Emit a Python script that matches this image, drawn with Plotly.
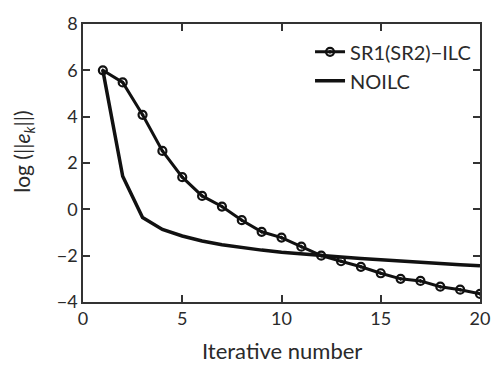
import plotly.graph_objects as go

iterations = list(range(1, 21))
sr_ilc = [6.0, 5.48, 4.08, 2.52, 1.39, 0.58, 0.12, -0.47, -0.97, -1.22,
          -1.61, -2.0, -2.24, -2.48, -2.76, -3.0, -3.09, -3.34, -3.47, -3.65]
noilc = [6.0, 1.43, -0.35, -0.87, -1.15, -1.37, -1.53, -1.66, -1.76, -1.85,
         -1.93, -2.0, -2.06, -2.12, -2.18, -2.24, -2.29, -2.34, -2.39, -2.44]
x_ticks = [0, 5, 10, 15, 20]
y_ticks = [-4, -2, 0, 2, 4, 6, 8]

FONT = "Lato"
INK = "#2a2a2a"
fig = go.Figure()
fig.add_trace(go.Scatter(
    x=iterations, y=sr_ilc, mode="lines+markers", name="SR1(SR2)\u2212ILC",
    line=dict(color="#111", width=3),
    marker=dict(symbol="circle-open-dot", size=8, color="#111", line=dict(width=2.2, color="#111")),
))
fig.add_trace(go.Scatter(
    x=iterations, y=noilc, mode="lines", name="NOILC",
    line=dict(color="#111", width=3.5),
))

axis_common = dict(
    showline=True, linecolor="#333", linewidth=1.5, mirror="ticks",
    ticks="inside", ticklen=7, tickwidth=1.5, tickcolor="#333",
    showgrid=False, zeroline=False,
    tickfont=dict(family=FONT, size=18, color=INK),
)
fig.update_xaxes(range=[0, 20], tickvals=x_ticks, **axis_common)
fig.update_yaxes(range=[-4, 8], tickvals=y_ticks, **axis_common)

fig.add_annotation(text="Iterative number", xref="paper", yref="paper",
                   x=0.5, y=-0.176, xanchor="center", yanchor="middle", showarrow=False,
                   font=dict(family=FONT, size=22, color=INK))
fig.add_annotation(text="log (||<i>e</i><sub><i>k</i></sub>||)", xref="paper", yref="paper",
                   x=-0.150, y=0.542, xanchor="center", yanchor="middle", textangle=-90,
                   showarrow=False, font=dict(family=FONT, size=21, color=INK))

fig.update_layout(
    width=502, height=367,
    margin=dict(l=83, r=13, t=18, b=65),
    plot_bgcolor="white", paper_bgcolor="white",
    showlegend=True,
    legend=dict(x=0.99, y=0.97, xanchor="right", yanchor="top",
                bgcolor="rgba(0,0,0,0)", font=dict(family=FONT, size=20, color=INK),
                tracegroupgap=0),
)
fig.write_html("out.html", config={"displayModeBar": False},
               post_script="document.body.style.margin='0';document.body.style.overflow='hidden';")
